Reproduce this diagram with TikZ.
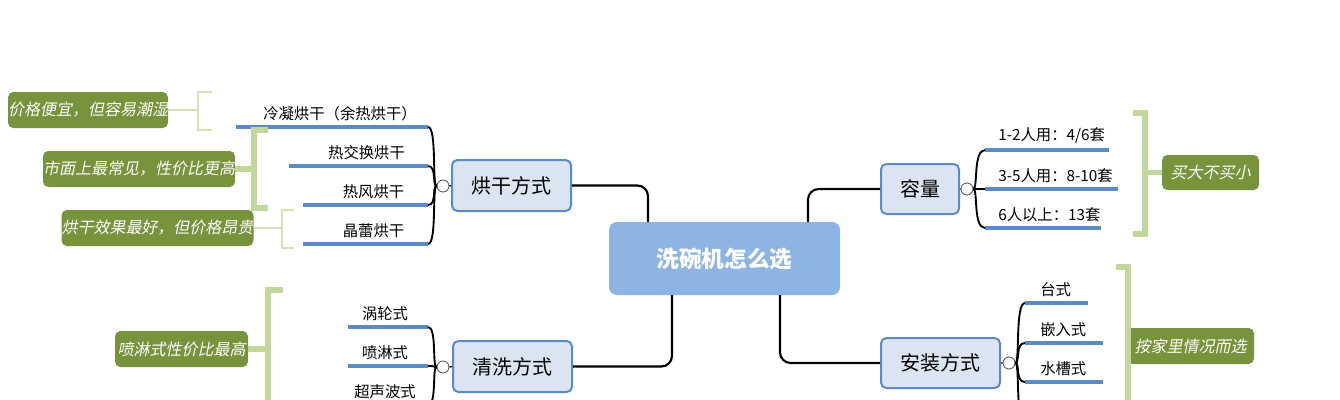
\documentclass[tikz,border=0pt]{standalone}
\usepackage{fontspec}
\setmainfont{Noto Sans CJK SC}
\newfontfamily\cjkit[FakeSlant=0.2]{Noto Sans CJK SC}
\definecolor{bfill}{HTML}{DBE5F1}
\definecolor{bdraw}{HTML}{5B8AC6}
\definecolor{cfill}{HTML}{8DB4E2}
\definecolor{gnote}{HTML}{77933C}
\definecolor{gbr}{HTML}{C3D69B}
\begin{document}
\begin{tikzpicture}[x=0.75pt,y=-0.75pt,
  topic/.style={draw=bdraw,fill=bfill,line width=1.5pt,rounded corners=4pt,inner sep=0pt,font=\fontsize{15}{15}\selectfont},
  note/.style={fill=gnote,rounded corners=4pt,inner sep=0pt,text=white,font=\cjkit\fontsize{12}{12}\selectfont},
  sub/.style={font=\fontsize{11.5}{11.5}\selectfont,anchor=south,inner sep=3pt},
  uline/.style={draw=bdraw,line width=2.6pt},
  conn/.style={draw=black,line width=1.6pt,rounded corners=8pt},
  brc/.style={draw=black,line width=1.4pt},
  knob/.style={circle,draw=black!70,fill=white,minimum size=9pt,inner sep=0pt,line width=0.6pt},
  thick br/.style={draw=gbr,line width=4pt},
  thin br/.style={draw=gbr!70,line width=1pt}]
\useasboundingbox (0,0) rectangle (1340,400);
% central
\node[fill=cfill,rounded corners=6pt,minimum width=231*0.75pt,minimum height=73*0.75pt,text=white,font=\bfseries\fontsize{17}{17}\selectfont] (c) at (724.5,258.5) {洗碗机怎么选};
% topics
\node[topic,minimum width=119*0.75pt,minimum height=51*0.75pt] (dry) at (511.5,185.5) {烘干方式};
\node[topic,minimum width=119*0.75pt,minimum height=51*0.75pt] (wash) at (512.5,366.5) {清洗方式};
\node[topic,minimum width=78*0.75pt,minimum height=50*0.75pt] (cap) at (920,189) {容量};
\node[topic,minimum width=119*0.75pt,minimum height=50*0.75pt] (inst) at (940.5,363) {安装方式};
\coordinate (c1) at (648,222); \coordinate (c2) at (672,295);
\coordinate (c3) at (808,222); \coordinate (c4) at (780,295);
\draw[conn] (dry.east) -| (c1);
\draw[conn] (wash.east) -| (c2);
\draw[conn] (cap.west) -| (c3);
\draw[conn] (inst.west) -| (c4);
% knobs
\node[knob] (k1) at (443,186) {};
\node[knob] (k2) at (443,367) {};
\node[knob] (k3) at (967,189) {};
\node[knob] (k4) at (1009,363) {};
\draw[line width=1pt] (dry.west) -- (k1.east) (wash.west) -- (k2.east) (cap.east) -- (k3.west) (inst.east) -- (k4.west);
% left dry subs
\foreach \n/\xl/\y/\t in {d1/236/127/{冷凝烘干（余热烘干）},d2/289/166/{热交换烘干},d3/303/205/{热风烘干},d4/303/244/{晶蕾烘干}}{
  \coordinate (\n a) at (\xl,\y); \coordinate (\n b) at (428,\y);
  \draw[uline] (\n a) -- (\n b);
  \node[sub] (\n t) at ({(\xl+428)/2+8},\y-2) {\t};
  \draw[brc] (k1.west) .. controls (432,186) and (437,\y) .. (\n b);
}
% wash subs
\foreach \n/\y/\t in {w1/327/涡轮式,w2/366/喷淋式,w3/405/超声波式}{
  \coordinate (\n a) at (348,\y); \coordinate (\n b) at (428,\y);
  \draw[uline] (\n a) -- (\n b);
  \node[sub] (\n t) at (385,\y-2) {\t};
  \draw[brc] (k2.west) .. controls (432,367) and (437,\y) .. (\n b);
}
% capacity subs
\foreach \n/\xr/\y/\t in {p1/1109/150/{1-2人用：4/6套},p2/1118/189/{3-5人用：8-10套},p3/1101/228/{6人以上：13套}}{
  \coordinate (\n a) at (985,\y); \coordinate (\n b) at (\xr,\y);
  \draw[uline] (\n a) -- (\n b);
  \node[sub,anchor=south west] (\n t) at (994,\y-2) {\t};
  \draw[brc] (k3.east) .. controls (978,189) and (973,\y) .. (\n a);
}
% install subs
\foreach \n/\xr/\y/\t in {i1/1088/303/台式,i2/1103/343/嵌入式,i3/1103/382/水槽式}{
  \coordinate (\n a) at (1025,\y); \coordinate (\n b) at (\xr,\y);
  \draw[uline] (\n a) -- (\n b);
  \node[sub,anchor=south west] (\n t) at (1036,\y-2) {\t};
  \draw[brc] (k4.east) .. controls (1020,363) and (1015,\y) .. (\n a);
}
\coordinate (i4a) at (1025,421);
\draw[brc] (k4.east) .. controls (1020,363) and (1015,421) .. (i4a);
% notes
\node[note,minimum width=160*0.75pt,minimum height=36*0.75pt] (n1) at (88,110) {价格便宜，但容易潮湿};
\node[note,minimum width=188*0.75pt,minimum height=36*0.75pt] (n2) at (139,169) {市面上最常见，性价比更高};
\node[note,minimum width=189*0.75pt,minimum height=36*0.75pt] (n3) at (157.5,228) {烘干效果最好，但价格昂贵};
\node[note,minimum width=133*0.75pt,minimum height=36*0.75pt] (n4) at (181.5,349) {喷淋式性价比最高};
\node[note,minimum width=97*0.75pt,minimum height=35*0.75pt] (n5) at (1210.5,172.5) {买大不买小};
\node[note,minimum width=127*0.75pt,minimum height=36*0.75pt] (n6) at (1190.5,346) {按家里情况而选};
% brackets
\draw[thin br] (212,92) -- (198,92) -- (198,130) -- (212,130) (198,110) -- (n1.east);
\draw[thick br] (268,130) -- (254,130) -- (254,208) -- (268,208) (254,169) -- (n2.east);
\draw[thin br] (294,210) -- (282,210) -- (282,248) -- (294,248) (282,228) -- (n3.east);
\draw[thick br] (283,290) -- (268,290) -- (268,420) (268,349) -- (n4.east);
\draw[thick br] (1133,113) -- (1145,113) -- (1145,234) -- (1133,234) (1145,172.5) -- (n5.west);
\draw[thick br] (1116,267) -- (1128,267) -- (1128,420) (1128,346) -- (n6.west);
\end{tikzpicture}
\end{document}
